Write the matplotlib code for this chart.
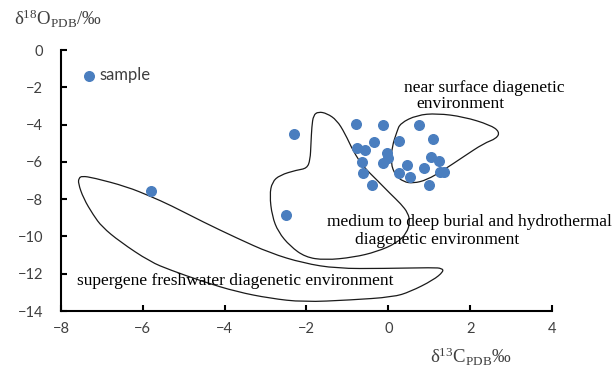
import numpy as np
import matplotlib
matplotlib.use("Agg")
import matplotlib.pyplot as plt
from matplotlib.path import Path
from matplotlib.patches import PathPatch

plt.rcParams['mathtext.fontset'] = 'custom'
plt.rcParams['mathtext.rm'] = 'Liberation Serif'
plt.rcParams['mathtext.it'] = 'Liberation Serif:italic'

# sample points (d13C, d18O)
d13c = [-0.80, -0.13, 0.74, -0.36, 0.27, 1.10, -0.76, -0.56, -0.02, 0.00,
        -0.64, -0.12, 1.05, 1.25, 0.45, 0.86, -0.61, 0.26, 0.52, 1.35,
        1.27, -0.40, 1.00, -2.30, -5.80, -2.50]
d18o = [-3.97, -4.04, -4.04, -4.94, -4.88, -4.79, -5.24, -5.38, -5.54, -5.80,
        -6.01, -6.05, -5.76, -5.94, -6.19, -6.35, -6.61, -6.61, -6.80, -6.53,
        -6.55, -7.24, -7.24, -4.51, -7.56, -8.85]

# outlines of the diagenetic environment fields
near_x = [0.29, 0.70, 1.19, 1.84, 2.49, 2.72, 2.65, 2.33, 1.84, 1.35, 0.94,
          0.61, 0.37, 0.17, 0.06, 0.09, 0.21]
near_y = [-3.93, -3.49, -3.40, -3.58, -4.02, -4.38, -4.74, -5.01, -5.72, -6.44,
          -6.97, -7.15, -7.07, -6.71, -6.08, -5.19, -4.38]

deep_x = [-1.71, -1.50, -1.26, -1.06, -0.85, -0.61, -0.28, 0.04, 0.31, 0.48,
          0.53, 0.45, 0.21, -0.28, -0.85, -1.55, -2.03, -2.40, -2.69, -2.84,
          -2.90, -2.84, -2.65, -2.24, -1.99, -1.91, -1.89, -1.87, -1.83]
deep_y = [-3.31, -3.40, -3.76, -4.47, -5.46, -6.26, -6.97, -7.69, -8.26, -8.74,
          -9.23, -9.82, -10.35, -10.82, -11.12, -11.27, -11.11, -10.52, -9.76, -8.91,
          -7.78, -7.08, -6.71, -6.44, -6.35, -5.90, -5.01, -4.11, -3.49]

super_x = [-7.49, -7.21, -6.39, -5.80, -5.33, -4.52, -3.70, -2.89, -2.08, -1.26,
           -0.13, 1.10, 1.31, 1.35, 1.10, 0.53, 0.12, -0.93, -2.08, -2.89,
           -3.70, -4.52, -5.33, -5.82, -6.56, -7.00, -7.21, -7.45, -7.58, -7.56]
super_y = [-6.76, -6.85, -7.33, -7.86, -8.32, -9.23, -10.09, -10.89, -11.43, -11.72,
           -11.72, -11.67, -11.71, -11.88, -12.34, -12.97, -13.25, -13.41, -13.52, -13.32,
           -12.97, -12.43, -11.80, -11.36, -10.28, -9.48, -8.85, -7.96, -7.14, -6.87]


def smooth_outline(xs, ys):
    # closed quadratic bezier through the midpoints of the outline
    pts = np.column_stack([xs, ys])
    nxt = np.roll(pts, -1, axis=0)
    mids = (pts + nxt) / 2
    verts = [mids[-1]]
    codes = [Path.MOVETO]
    for p, m in zip(pts, mids):
        verts += [p, m]
        codes += [Path.CURVE3, Path.CURVE3]
    return Path(verts, codes)


fig = plt.figure(figsize=(6.14, 3.73), dpi=100)
ax = fig.add_axes([0.0993, 0.1662, 0.7997, 0.6997])

for xs, ys in [(near_x, near_y), (deep_x, deep_y), (super_x, super_y)]:
    ax.add_patch(PathPatch(smooth_outline(xs, ys), facecolor='none',
                           edgecolor='#1a1a1a', lw=0.9))

ax.scatter(d13c, d18o, s=48, color='#4a7ebf', zorder=3, label='sample')

ax.set_xlim(-8, 4)
ax.set_ylim(-14, 0)
ax.set_xticks(range(-8, 5, 2))
ax.set_yticks(range(-14, 1, 2))
for s in ['top', 'right']:
    ax.spines[s].set_visible(False)
for s in ['left', 'bottom']:
    ax.spines[s].set_linewidth(1.5)
ax.tick_params(direction='in', length=4, width=1.5, labelsize=10.5, colors='black')
ax.tick_params(axis='y', pad=13)
ax.tick_params(axis='x', pad=8)
for lab in ax.get_xticklabels() + ax.get_yticklabels():
    lab.set_family('Lato')
    lab.set_color('#404040')

serif = 'Liberation Serif'
fs = 12.5
ax.text(0.386, -2.04, 'near surface diagenetic', family=serif, fontsize=fs, va='center')
ax.text(0.68, -2.90, 'environment', family=serif, fontsize=fs, va='center')
ax.text(-1.50, -9.23, 'medium to deep burial and hydrothermal', family=serif, fontsize=fs,
        va='center')
ax.text(-0.81, -10.19, 'diagenetic environment', family=serif, fontsize=fs, va='center')
ax.text(-7.61, -12.39, 'supergene freshwater diagenetic environment', family=serif,
        fontsize=fs, va='center')

fig.text(0.023, 0.95, 'δ$^{18}$O$_{\\mathrm{PDB}}$/‰', family=serif, fontsize=13.5,
         color='#404040', va='center')
fig.text(0.70, 0.042, 'δ$^{13}$C$_{\\mathrm{PDB}}$‰', family=serif, fontsize=13.5,
         color='#404040', va='center')

leg = ax.legend(loc='center left', bbox_to_anchor=(0.027, 0.904), frameon=False,
                handletextpad=0.1, handlelength=1.0, borderaxespad=0,
                prop={'family': 'Lato', 'size': 12})
for t in leg.get_texts():
    t.set_color('#404040')

fig.savefig('out.png', dpi=100)
